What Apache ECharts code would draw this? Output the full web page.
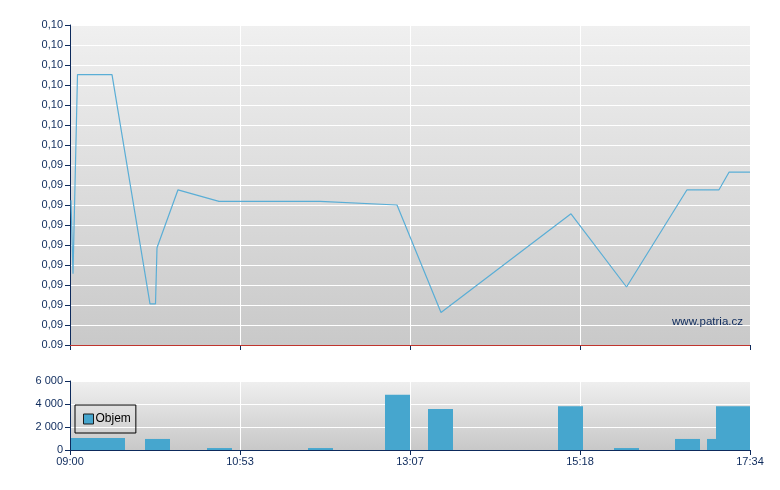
<!DOCTYPE html>
<html>
<head>
<meta charset="utf-8">
<script src="https://cdn.jsdelivr.net/npm/echarts@6/dist/echarts.min.js"></script>
<style>
html,body{margin:0;padding:0;background:#fff;}
#chart{width:780px;height:490px;}
</style>
</head>
<body>
<div id="chart"></div>
<script>
// ---- data ----
// x positions are in timeline units (0..680) of the compressed trading-day axis
var xTickLabels = ["09:00", "10:53", "13:07", "15:18", "17:34"];
var priceX = [1, 3, 7.5, 42, 80, 85.5, 87, 108, 149, 250, 327, 371, 501, 556.5, 617, 649, 659, 680];
var priceY = [0.09362, 0.09178, 0.09676, 0.09676, 0.09103, 0.09103, 0.09243, 0.09388, 0.09359, 0.09359, 0.0935, 0.09081, 0.09328, 0.09145, 0.09388, 0.09388, 0.09432, 0.09432];
var prevClose = 0.09289;
var yTickLabels = ["0.09","0,09","0,09","0,09","0,09","0,09","0,09","0,09","0,09","0,09","0,10","0,10","0,10","0,10","0,10","0,10","0,10"];
var volStart = [1, 75, 137, 238, 315, 358, 488, 544, 605, 637, 646];
var volEnd   = [55, 100, 162, 263, 340, 383, 513, 569, 630, 662, 680];
var volValue = [1050, 960, 170, 170, 4800, 3560, 3800, 170, 960, 960, 3800];
var volTickLabels = ["0", "2 000", "4 000", "6 000"];
var seriesName = "Objem";
var watermark = "www.patria.cz";

// ---- chart ----
var yMin = 0.090, yMax = 0.098, yStep = 0.0005;
var navy = "#0d2a5c";
var font = "'Liberation Sans', Arial, sans-serif";
var priceData = priceX.map(function (x, i) { return [x, priceY[i]]; });
var volData = volStart.map(function (s, i) { return [s, volEnd[i], volValue[i]]; });

function bg(top, bottom) {
  return new echarts.graphic.LinearGradient(0, 0, 0, 1, [
    { offset: 0, color: top }, { offset: 1, color: bottom }
  ]);
}

var chart = echarts.init(document.getElementById('chart'), null, { renderer: 'canvas' });
var axisLabelStyle = { color: navy, fontSize: 11, fontFamily: font };

chart.setOption({
  animation: false,
  textStyle: { fontFamily: font },
  title: {
    text: watermark,
    right: 37, top: 316, padding: 0,
    textStyle: { color: navy, fontSize: 11.5, fontWeight: 'normal', fontFamily: font }
  },
  legend: {
    data: [seriesName],
    left: 75, top: 405,
    padding: [8, 5, 8, 8],
    itemWidth: 10, itemHeight: 10, itemGap: 4,
    borderColor: '#000', borderWidth: 1, borderRadius: 0,
    backgroundColor: 'transparent',
    icon: 'rect',
    itemStyle: { borderColor: '#1a1a1a', borderWidth: 1 },
    textStyle: { color: '#000', fontSize: 12, fontFamily: font, padding: [0, 0, 0, -3] }
  },
  grid: [
    { left: 70, top: 25, width: 680, height: 320, show: true, borderWidth: 0, backgroundColor: bg('#f0f0f0', '#c9c9c9') },
    { left: 70, top: 381, width: 680, height: 69, show: true, borderWidth: 0, backgroundColor: bg('#efefef', '#c8c8c8') }
  ],
  xAxis: [
    {
      gridIndex: 0, type: 'value', min: 0, max: 680, interval: 170,
      axisLine: { show: true, lineStyle: { color: navy, width: 1 } },
      axisTick: { show: true, length: 5, lineStyle: { color: navy } },
      axisLabel: { show: false },
      splitLine: { show: true, lineStyle: { color: '#ffffff', width: 1 } }
    },
    {
      gridIndex: 1, type: 'value', min: 0, max: 680, interval: 170,
      axisLine: { show: true, lineStyle: { color: navy, width: 1 } },
      axisTick: { show: true, length: 5, lineStyle: { color: navy } },
      axisLabel: Object.assign({ margin: 6, formatter: function (v) { return xTickLabels[Math.round(v / 170)]; } }, axisLabelStyle),
      splitLine: { show: true, lineStyle: { color: '#ffffff', width: 1 } }
    }
  ],
  yAxis: [
    {
      gridIndex: 0, type: 'value', min: yMin, max: yMax, interval: yStep,
      axisLine: { show: true, lineStyle: { color: navy, width: 1 } },
      axisTick: { show: true, length: 5, lineStyle: { color: navy } },
      axisLabel: Object.assign({ margin: 7, formatter: function (v) { return yTickLabels[Math.round((v - yMin) / yStep)]; } }, axisLabelStyle),
      splitLine: { show: true, lineStyle: { color: '#ffffff', width: 1 } }
    },
    {
      gridIndex: 1, type: 'value', min: 0, max: 6000, interval: 2000,
      axisLine: { show: true, lineStyle: { color: navy, width: 1 } },
      axisTick: { show: true, length: 5, lineStyle: { color: navy } },
      axisLabel: Object.assign({ margin: 7, formatter: function (v) { return volTickLabels[Math.round(v / 2000)]; } }, axisLabelStyle),
      splitLine: { show: true, lineStyle: { color: '#ffffff', width: 1 } }
    }
  ],
  series: [
    {
      type: 'line', xAxisIndex: 0, yAxisIndex: 0,
      data: priceData, showSymbol: false, symbol: 'none',
      lineStyle: { color: '#5aaed6', width: 1.2 },
      itemStyle: { color: '#5aaed6' },
      markLine: {
        silent: true, symbol: 'none', label: { show: false },
        lineStyle: { color: '#c0352e', width: 1, type: 'solid' },
        data: [{ yAxis: prevClose }]
      },
      z: 3
    },
    {
      name: seriesName,
      type: 'custom', xAxisIndex: 1, yAxisIndex: 1,
      data: volData,
      encode: { x: [0, 1], y: 2 },
      itemStyle: { color: '#46a6ce' },
      renderItem: function (params, api) {
        var p0 = api.coord([api.value(0), 0]);
        var p1 = api.coord([api.value(1), api.value(2)]);
        return {
          type: 'rect',
          shape: { x: p0[0], y: p1[1], width: p1[0] - p0[0], height: p0[1] - p1[1] },
          style: { fill: '#46a6ce' }
        };
      }
    }
  ]
});
</script>
</body>
</html>
